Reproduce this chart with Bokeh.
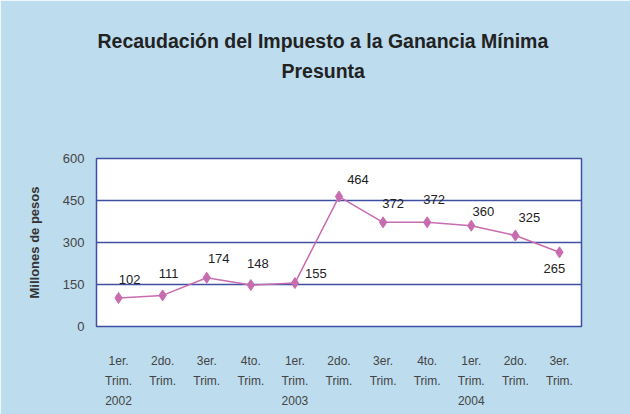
from bokeh.plotting import figure
from bokeh.models import ColumnDataSource, FixedTicker, LabelSet, Range1d, Title
from bokeh.core.properties import value
from bokeh.embed import file_html
from bokeh.resources import INLINE

# ---- data ----
periods = ["2002-T1", "2002-T2", "2002-T3", "2002-T4",
           "2003-T1", "2003-T2", "2003-T3", "2003-T4",
           "2004-T1", "2004-T2", "2004-T3"]
quarter_labels = ["1er.", "2do.", "3er.", "4to.",
                  "1er.", "2do.", "3er.", "4to.",
                  "1er.", "2do.", "3er."]
year_labels = ["2002", "", "", "", "2003", "", "", "", "2004", "", ""]
values = [102, 111, 174, 148, 155, 464, 372, 372, 360, 325, 265]
y_ticks = [0, 150, 300, 450, 600]
title_lines = ["Recaudación del Impuesto a la Ganancia Mínima", "Presunta"]

# label placement (screen px offsets, style only)
lab_dx = [11, 6, 12, 7, 21, 19, 10, 7, 12, 14, -5]
lab_dy = [18, 22, 19, 22, 10, 17, 19, 23, 14, 18, -16]

BG = "#bddcee"
BLUE = "#3f4fa3"
PINK = "#c86cb0"
FONT = "Liberation Sans"

xs = list(range(len(periods)))
src = ColumnDataSource(dict(x=xs, y=values,
                            txt=[str(v) for v in values],
                            dx=lab_dx, dy=lab_dy))

W, H = 630, 414
p = figure(width=W, height=H, x_range=Range1d(-0.5, len(periods) - 0.5),
           y_range=Range1d(0, 600), output_backend="svg",
           toolbar_location=None,
           min_border_left=96, min_border_right=49,
           min_border_top=158, min_border_bottom=88)

p.background_fill_color = "white"
p.border_fill_color = BG
p.outline_line_color = BLUE
p.outline_line_width = 1.5

# spacer + two title lines (each added later sits further from the plot)
spacer = Title(text=" ", standoff=74, text_font_size="1px",
               text_color=BG)
t2 = Title(text=title_lines[1], align="left", offset=185, standoff=0,
           text_font=FONT, text_font_size="19.5px", text_font_style="bold",
           text_color="#222222")
t1 = Title(text=title_lines[0], align="left", offset=1, standoff=12,
           text_font=FONT, text_font_size="19.5px", text_font_style="bold",
           text_color="#222222")
p.add_layout(spacer, "above")
p.add_layout(t2, "above")
p.add_layout(t1, "above")

p.xgrid.grid_line_color = None
p.ygrid.grid_line_color = BLUE
p.ygrid.grid_line_width = 1.5
p.yaxis.ticker = FixedTicker(ticks=y_ticks)
p.xaxis.ticker = FixedTicker(ticks=xs)

for ax in (p.xaxis[0], p.yaxis[0]):
    ax.axis_line_color = None
    ax.major_tick_line_color = None
    ax.minor_tick_line_color = None
    ax.major_tick_out = 0
    ax.major_tick_in = 0
    ax.minor_tick_out = 0
    ax.minor_tick_in = 0
    ax.major_label_text_font = FONT
    ax.major_label_text_font_size = "12px"
    ax.major_label_text_color = "#444444"

p.yaxis.major_label_text_font_size = "13px"
p.yaxis.major_label_standoff = 12
p.yaxis.axis_label = "Millones de pesos"
p.yaxis.axis_label_text_font = FONT
p.yaxis.axis_label_text_font_size = "13px"
p.yaxis.axis_label_text_font_style = "bold"
p.yaxis.axis_label_text_color = "#333333"
p.yaxis.axis_label_standoff = 18

overrides = {}
for i, q, yr in zip(xs, quarter_labels, year_labels):
    overrides[i] = q + "\nTrim." + ("\n" + yr if yr else "")
p.xaxis.major_label_overrides = overrides
p.xaxis.major_label_standoff = 27
p.xaxis.major_label_text_line_height = 1.45

p.line("x", "y", source=src, line_color=PINK, line_width=1.5)
p.scatter("x", "y", source=src, marker="diamond", size=11,
          fill_color=PINK, line_color=PINK)

labels = LabelSet(x="x", y="y", text="txt", source=src,
                  x_offset="dx", y_offset="dy",
                  text_align="center", text_baseline="middle",
                  text_font=value(FONT), text_font_size=value("13px"),
                  text_color="#222222")
p.add_layout(labels)

open("out.html", "w").write(file_html(p, INLINE))
